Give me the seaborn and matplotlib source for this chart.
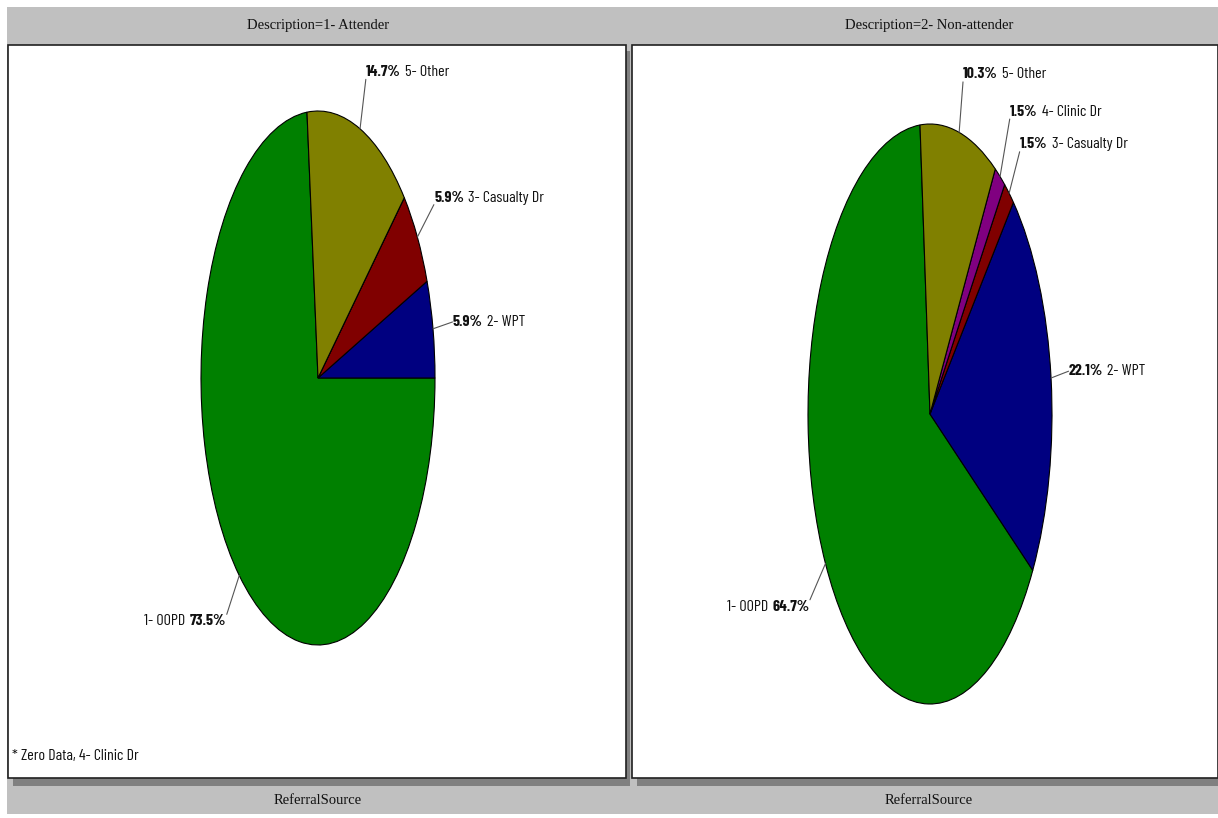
import matplotlib
matplotlib.use("Agg")
import numpy as np
import matplotlib.pyplot as plt
from matplotlib import font_manager as fm
from matplotlib.patches import Rectangle
from matplotlib.offsetbox import TextArea, HPacker, AnnotationBbox
import seaborn as sns

# Referral source shares (%) by attendance group
categories = ["1- OOPD", "2- WPT", "3- Casualty Dr", "4- Clinic Dr", "5- Other"]
attender = [73.5, 5.9, 5.9, 0.0, 14.7]
non_attender = [64.7, 22.1, 1.5, 1.5, 10.3]
panel_titles = ["Description=1- Attender", "Description=2- Non-attender"]
footer_label = "ReferralSource"
colors = ["#008000", "#000080", "#800000", "#800080", "#808000"]

sns.set_theme(style="white")


def pick_with_bold(candidates, default):
    weights = {}
    for f in fm.fontManager.ttflist:
        w = f.weight if isinstance(f.weight, int) else (700 if f.weight == "bold" else 400)
        weights.setdefault(f.name, set()).add(w)
    for name in candidates:
        if name in weights and max(weights[name]) >= 600:
            return name
    return default


SANS = pick_with_bold(["Liberation Sans Narrow", "Barlow Condensed", "Barlow Semi Condensed",
                       "Asap Condensed"], "DejaVu Sans")
SERIF = pick_with_bold(["Liberation Serif"], "DejaVu Serif")
plt.rcParams["font.family"] = [SANS, "DejaVu Sans"]

W, H = 1218, 818
LABEL_SIZE = 11.5
fig = plt.figure(figsize=(W / 100, H / 100), dpi=100)
fig.patch.set_facecolor("white")

# Frame: grey strips, white panels with drop shadows
bg = fig.add_axes([0, 0, 1, 1])
bg.set_xlim(0, W)
bg.set_ylim(H, 0)
bg.axis("off")
bg.add_patch(Rectangle((7, 7), W - 7, 807, facecolor="#c0c0c0", edgecolor="none"))
panels = [(8, 45, 618, 733), (632, 45, 586, 733)]
for (x, y, w, h) in panels:
    bg.add_patch(Rectangle((x + 5, y + 6), w - 1, h + 2, facecolor="#808080", edgecolor="none"))
    bg.add_patch(Rectangle((x, y), w, h, facecolor="white", edgecolor="#202020", linewidth=1.2))

title_x = [318, 929]
for tx, title in zip(title_x, panel_titles):
    bg.text(tx, 25, title, ha="center", va="center", fontsize=10.5,
            family=[SERIF, "DejaVu Serif"], color="#111111")
    bg.text(tx, 800, footer_label, ha="center", va="center", fontsize=10.5,
            family=[SERIF, "DejaVu Serif"], color="#111111")

# Pie boxes in pixels: (centre x, centre y, radius x, radius y)
pie_boxes = [(318, 378, 117, 267), (930, 414, 122, 290)]
start_angles = [95.4, 94.7]

# Label placement: offset in pixels from the slice's rim point
label_offsets = [
    {"1- OOPD": (-13, -46), "2- WPT": (20, 7), "3- Casualty Dr": (17, 39), "5- Other": (6, 57)},
    {"1- OOPD": (-16, -43), "2- WPT": (18, 7), "3- Casualty Dr": (11, 49),
     "4- Clinic Dr": (10, 65), "5- Other": (4, 58)},
]


def label_box(cat, pct, pct_first):
    bold = TextArea(f"{pct:.1f}%", textprops=dict(fontsize=LABEL_SIZE, fontweight="bold",
                                                   color="#111111", family=SANS))
    plain = TextArea(cat, textprops=dict(fontsize=LABEL_SIZE, color="#111111", family=SANS))
    parts = [bold, plain] if pct_first else [plain, bold]
    return HPacker(children=parts, pad=0, sep=3, align="baseline")


for values, (cx, cy, rx, ry), start, offsets in zip(
        [attender, non_attender], pie_boxes, start_angles, label_offsets):
    ax = fig.add_axes([(cx - rx) / W, (H - cy - ry) / H, 2 * rx / W, 2 * ry / H])
    wedges, _ = ax.pie(values, colors=colors, startangle=start, counterclock=True,
                       radius=1, wedgeprops=dict(edgecolor="black", linewidth=0.8))
    for wdg in wedges:
        wdg.set_clip_on(False)
    ax.set_xlim(-1, 1)
    ax.set_ylim(-1, 1)
    ax.set_aspect("auto")
    ax.axis("off")

    total = sum(values)
    cum = 0.0
    for cat, v in zip(categories, values):
        if v <= 0:
            continue
        mid = np.deg2rad(start + 360.0 * (cum + v / 2) / total)
        cum += v
        px, py = np.cos(mid), np.sin(mid)
        dx, dy = offsets[cat]
        if dx < 0:
            box = label_box(cat, v, pct_first=False)
            align, rel = (1.0, 0.5), (1.0, 0.9)
        else:
            box = label_box(cat, v, pct_first=True)
            align, rel = (0.0, 0.5), (0.0, 0.5 if abs(dy) < 20 else 0.1)
        ab = AnnotationBbox(box, (px, py), xybox=(dx, dy), boxcoords="offset pixels",
                            box_alignment=align, frameon=False, pad=0,
                            annotation_clip=False,
                            arrowprops=dict(arrowstyle="-", color="#555555", lw=0.8,
                                            shrinkA=0, shrinkB=0, relpos=rel))
        ax.add_artist(ab)

zero_cats = [c for c, v in zip(categories, attender) if v == 0]
bg.text(12, 756, "* Zero Data, " + ", ".join(zero_cats), ha="left", va="center",
        fontsize=LABEL_SIZE, color="#111111")

fig.savefig("out.png", dpi=100)
